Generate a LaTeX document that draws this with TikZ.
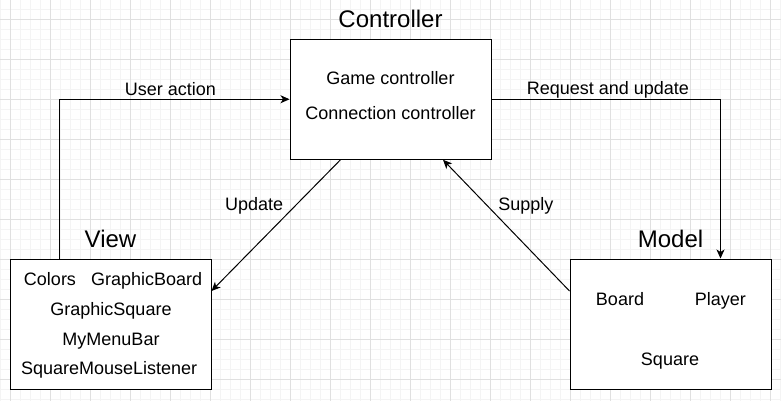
\documentclass[tikz,border=0pt]{standalone}
\usepackage{fontspec}
\setmainfont{Liberation Sans}
\usetikzlibrary{arrows.meta,positioning}
\definecolor{gridminor}{HTML}{F4F4F4}
\definecolor{gridmajor}{HTML}{E0E0E0}

\begin{document}
\begin{tikzpicture}[x=1pt,y=-1pt,>={Stealth[length=9pt,width=8pt,inset=2.5pt]},line width=1pt]
  \tikzstyle{block}=[draw,fill=white,minimum width=201pt,inner sep=0pt]
  \tikzstyle{title}=[font=\fontsize{24}{28}\selectfont,inner sep=0pt]
  \tikzstyle{item}=[font=\fontsize{18}{22}\selectfont,inner sep=0pt,anchor=base]
  \tikzstyle{lbl}=[font=\fontsize{18}{22}\selectfont,inner sep=0pt,anchor=base]
  \tikzstyle{flow}=[->,draw=black]

  \useasboundingbox (0,0) rectangle (781,401);
  \fill[white] (0,0) rectangle (781,401);
  \foreach \gx in {0,10,...,780} \draw[gridminor] (\gx,0) -- (\gx,401);
  \foreach \gy in {-0.5,9.5,...,400} \draw[gridminor] (0,\gy) -- (781,\gy);
  \foreach \gx in {10,50,...,770} \draw[gridmajor] (\gx,0) -- (\gx,401);
  \foreach \gy in {19.5,59.5,...,400} \draw[gridmajor] (0,\gy) -- (781,\gy);

  \node[block,minimum height=120pt] (ctrl)  at (390.5,99.25) {};
  \node[block,minimum height=130pt] (view)  at (110.5,324) {};
  \node[block,minimum height=130pt] (model) at (670.5,324) {};

  \node[title,above=10.5pt of ctrl]  (ctrltitle)  {Controller};
  \node[title,above=10.5pt of view]  (viewtitle)  {View};
  \node[title,above=10.5pt of model] (modeltitle) {Model};

  \node[item] (game) at (390.5,85)  {Game controller};
  \node[item] (conn) at (390.5,119.5) {Connection controller};

  \node[item] (colors)  at (50,285)    {Colors};
  \node[item] (gboard)  at (146.7,285) {GraphicBoard};
  \node[item] (gsquare) at (111,315)   {GraphicSquare};
  \node[item] (menubar) at (111,345)   {MyMenuBar};
  \node[item] (mouse)   at (109.2,374.5) {SquareMouseListener};

  \node[item] (board)  at (620,305)   {Board};
  \node[item] (player) at (720.3,305) {Player};
  \node[item] (square) at (670,365)   {Square};

  \draw[flow] ([xshift=50pt]view.north west) |- node[lbl,pos=0.741,yshift=4pt] {User action} (ctrl.west);
  \draw[flow] (ctrl.east) -| node[lbl,pos=0.254,yshift=4.7pt] {Request and update} ([xshift=50pt]model.north);
  \draw[flow] ([xshift=-50pt]ctrl.south) -- node[lbl,pos=0.386,anchor=base east,xshift=-7pt] {Update} ([yshift=33pt]view.east);
  \draw[flow] ([yshift=33pt]model.west) -- node[lbl,pos=0.614,anchor=base west,xshift=6pt] {Supply} ([xshift=52.5pt]ctrl.south);
\end{tikzpicture}
\end{document}
